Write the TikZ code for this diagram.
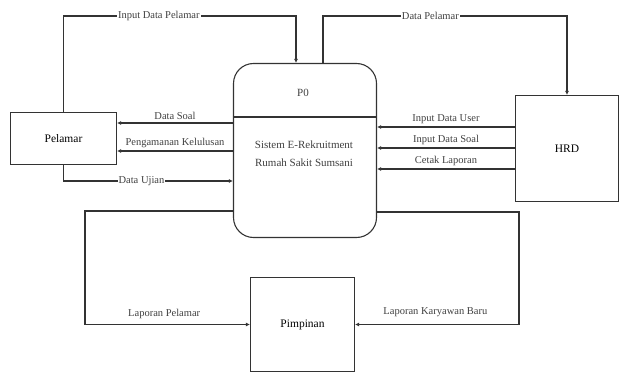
\documentclass[tikz,border=0pt]{standalone}
\usepackage{fontspec}
\setmainfont{Liberation Serif}
\usetikzlibrary{arrows.meta,positioning}

\begin{document}
\begin{tikzpicture}[x=1pt,y=-1pt]
\tikzset{entity/.style = {shape=rectangle,draw=black!80,line width=1.1pt,font=\fontsize{11.5}{13}\selectfont},
         flow/.style = {draw=black!80,line width=1.1pt,-{Latex[length=4pt,width=4pt]}},
         lbl/.style = {font=\fontsize{10.5}{12}\selectfont,text=black!75,inner sep=1pt}}
\useasboundingbox (0,0) rectangle (620,379);
% vertices
\node[entity,minimum width=106,minimum height=52] (pelamar) at (63.5,138.5) {Pelamar};
\node[entity,minimum width=143,minimum height=174,rounded corners=20pt] (proc) at (305,150.5) {};
\node[entity,minimum width=103,minimum height=106] (hrd) at (567,148.5) {HRD};
\node[entity,minimum width=104,minimum height=94] (pimpinan) at (302.5,324.5) {Pimpinan};
\node[lbl,font=\fontsize{11}{13}\selectfont] (p0) at (303,93) {P0};
\node[lbl,align=center,font=\fontsize{11}{18}\selectfont] (sistem) at (304,154) {Sistem E-Rekruitment\\Rumah Sakit Sumsani};
\coordinate (div) at (0,117);
\coordinate (top) at (0,16);
\draw[draw=black!80,line width=1.1pt] (proc.west |- div) -- (proc.east |- div);
% edges
\draw[flow] (pelamar.north) -- (pelamar.north |- top) -| node[lbl,fill=white,pos=0.205] {Input Data Pelamar} ([xshift=-9pt]proc.north);
\draw[flow] ([xshift=18pt]proc.north) -- ([xshift=18pt]proc.north |- top) -| node[lbl,fill=white,pos=0.22] {Data Pelamar} (hrd.north);
\draw[flow] (proc.west |- 0,123) -- node[lbl,above=2pt] {Data Soal} (pelamar.east |- 0,123);
\draw[flow] (proc.west |- 0,151) -- node[lbl,above=2pt] {Pengamanan Kelulusan} (pelamar.east |- 0,151);
\draw[flow] (pelamar.south) |- node[lbl,fill=white,pos=0.73] {Data Ujian} (proc.west |- 0,181);
\draw[flow] (hrd.west |- 0,127) -- node[lbl,above=2pt] {Input Data User} (proc.east |- 0,127);
\draw[flow] (hrd.west |- 0,148) -- node[lbl,above=2pt] {Input Data Soal} (proc.east |- 0,148);
\draw[flow] (hrd.west |- 0,169) -- node[lbl,above=2pt] {Cetak Laporan} (proc.east |- 0,169);
\draw[flow] (proc.west |- 0,211) -| (85,250) |- node[lbl,above=4pt,pos=0.74] {Laporan Pelamar} (pimpinan.west);
\draw[flow] (proc.east |- 0,212) -| (519,250) |- node[lbl,above=6pt,pos=0.755] {Laporan Karyawan Baru} (pimpinan.east);
\end{tikzpicture}
\end{document}
